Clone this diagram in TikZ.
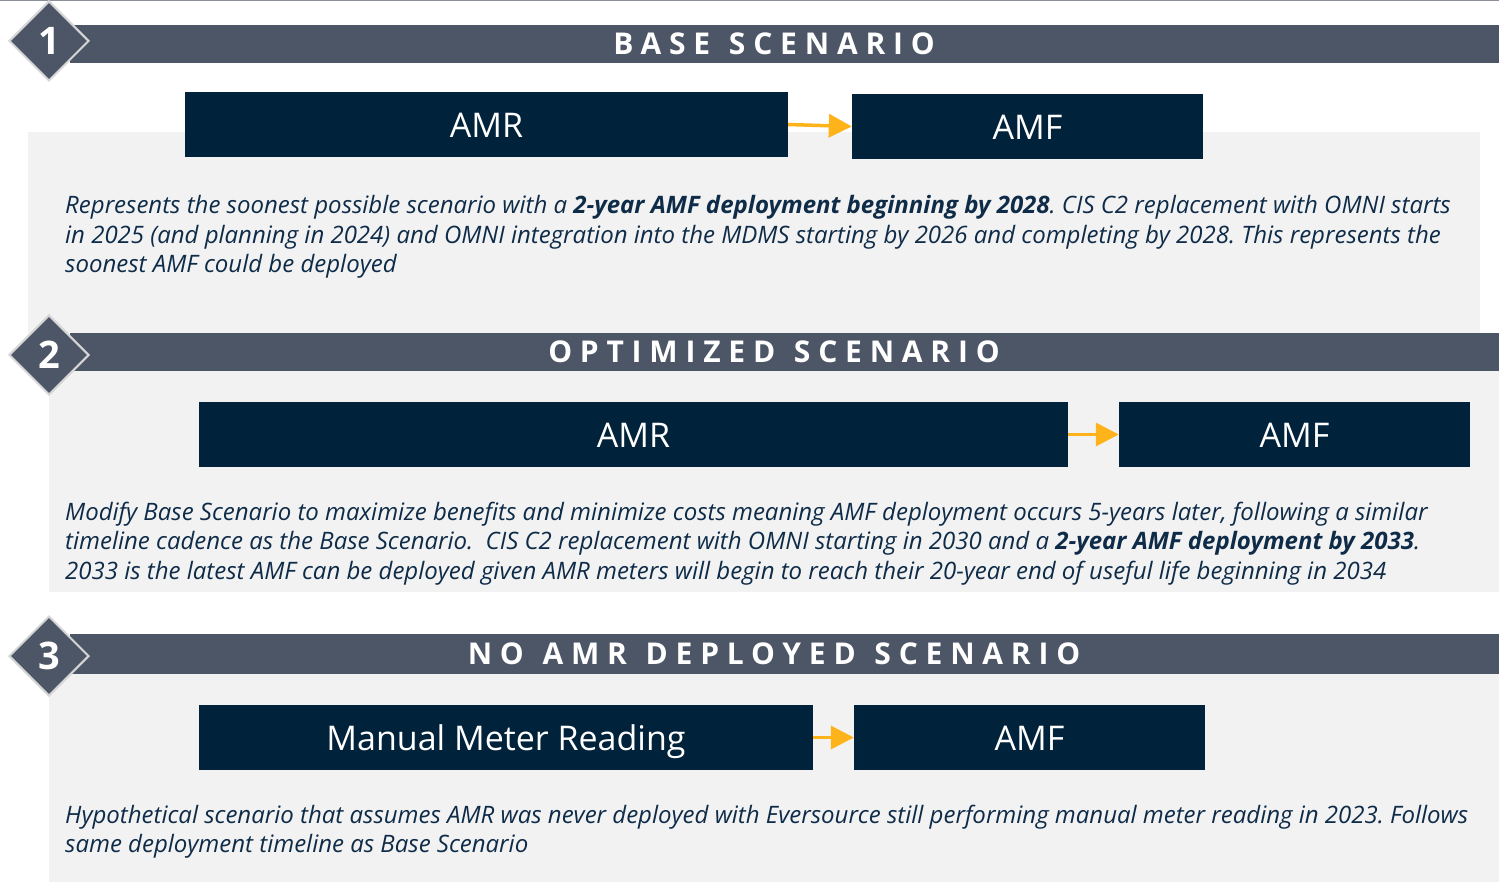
\documentclass[tikz,border=0pt]{standalone}
\usepackage{fontspec}
\setmainfont{Open Sans}
\newfontfamily\titlefont{Open Sans}[LetterSpace=26, WordSpace=1.2]
\usetikzlibrary{shapes.geometric,arrows.meta}

\definecolor{bannergray}{HTML}{4D5666}
\definecolor{navybox}{HTML}{00223B}
\definecolor{panelgray}{HTML}{F2F2F2}
\definecolor{arroworange}{HTML}{FFB31A}
\definecolor{bodytext}{HTML}{0E2B48}
\definecolor{badgeedge}{HTML}{D6D6D6}
\definecolor{topline}{HTML}{8A8F99}

\tikzset{
  panel/.style={fill=panelgray, draw=none},
  banner/.style={fill=bannergray, draw=none},
  badge/.style={diamond, aspect=1, fill=bannergray, draw=badgeedge, line width=2pt,
    minimum width=80pt, minimum height=80pt, inner sep=0pt, text=white,
    font=\fontsize{38}{40}\selectfont\bfseries},
  bannertitle/.style={text=white, inner sep=0pt, font=\titlefont\fontsize{30}{32}\selectfont\bfseries},
  phase/.style={fill=navybox, draw=none, text=white, inner sep=0pt,
    text height=26pt, text depth=0pt, font=\fontsize{34}{38}\selectfont},
  flow/.style={draw=arroworange, line width=3.5pt, -{Triangle[length=23pt,width=23pt]}},
  para/.style={anchor=base west, inner sep=0pt, text=bodytext,
    font=\fontsize{24}{29.5}\selectfont\itshape\frenchspacing}
}

\begin{document}
\begin{tikzpicture}[x=1pt,y=-1pt]
\useasboundingbox (0,0) rectangle (1499,882);
\fill[white] (0,0) rectangle (1499,882);
\draw[topline, line width=1.5pt] (0,0.75) -- (1499,0.75);

% grey panels behind each scenario
\fill[panel] (28,132) rectangle (1480,333);
\fill[panel] (49,371) rectangle (1499,592);
\fill[panel] (49,674) rectangle (1499,882);

% title banners
\fill[banner] (70,25) rectangle (1499,63);
\fill[banner] (70,333) rectangle (1499,371);
\fill[banner] (70,634) rectangle (1499,674);

\node[bannertitle] (t1) at (774,44) {BASE SCENARIO};
\node[bannertitle] (t2) at (774,352) {OPTIMIZED SCENARIO};
\node[bannertitle] (t3) at (774,654) {NO AMR DEPLOYED SCENARIO};

% numbered badges
\node[badge] (n1) at (49,41) {1};
\node[badge] (n2) at (49,355) {2};
\node[badge] (n3) at (49,656) {3};

% scenario 1
\node[phase, minimum width=603pt, minimum height=65pt] (amr1) at (486.5,124.5) {AMR};
\node[phase, minimum width=351pt, minimum height=65pt] (amf1) at (1027.5,126.5) {AMF};
\draw[flow] (amr1.east) -- (amf1.west);

\node[para] (p1a) at (65,214) {Represents the soonest possible scenario with a \textbf{2-year AMF deployment beginning by 2028}. CIS C2 replacement with OMNI starts};
\node[para] (p1b) at (65,243.5) {in 2025 (and planning in 2024) and OMNI integration into the MDMS starting by 2026 and completing by 2028. This represents the};
\node[para] (p1c) at (65,273) {soonest AMF could be deployed};

% scenario 2
\node[phase, minimum width=869pt, minimum height=65pt] (amr2) at (633.5,434.5) {AMR};
\node[phase, minimum width=351pt, minimum height=65pt] (amf2) at (1294.5,434.5) {AMF};
\draw[flow] (amr2.east) -- (amf2.west);

\node[para] (p2a) at (65,520) {Modify Base Scenario to maximize benefits and minimize costs meaning AMF deployment occurs 5-years later, following a similar};
\node[para] (p2b) at (65,549.5) {timeline cadence as the Base Scenario.\ \ CIS C2 replacement with OMNI starting in 2030 and a \textbf{2-year AMF deployment by 2033}.};
\node[para] (p2c) at (65,579) {2033 is the latest AMF can be deployed given AMR meters will begin to reach their 20-year end of useful life beginning in 2034};

% scenario 3
\node[phase, minimum width=614pt, minimum height=65pt] (mmr3) at (506,737.5) {Manual Meter Reading};
\node[phase, minimum width=351pt, minimum height=65pt] (amf3) at (1029.5,737.5) {AMF};
\draw[flow] (mmr3.east) -- (amf3.west);

\node[para] (p3a) at (65,823) {Hypothetical scenario that assumes AMR was never deployed with Eversource still performing manual meter reading in 2023. Follows};
\node[para] (p3b) at (65,852) {same deployment timeline as Base Scenario};
\end{tikzpicture}
\end{document}
